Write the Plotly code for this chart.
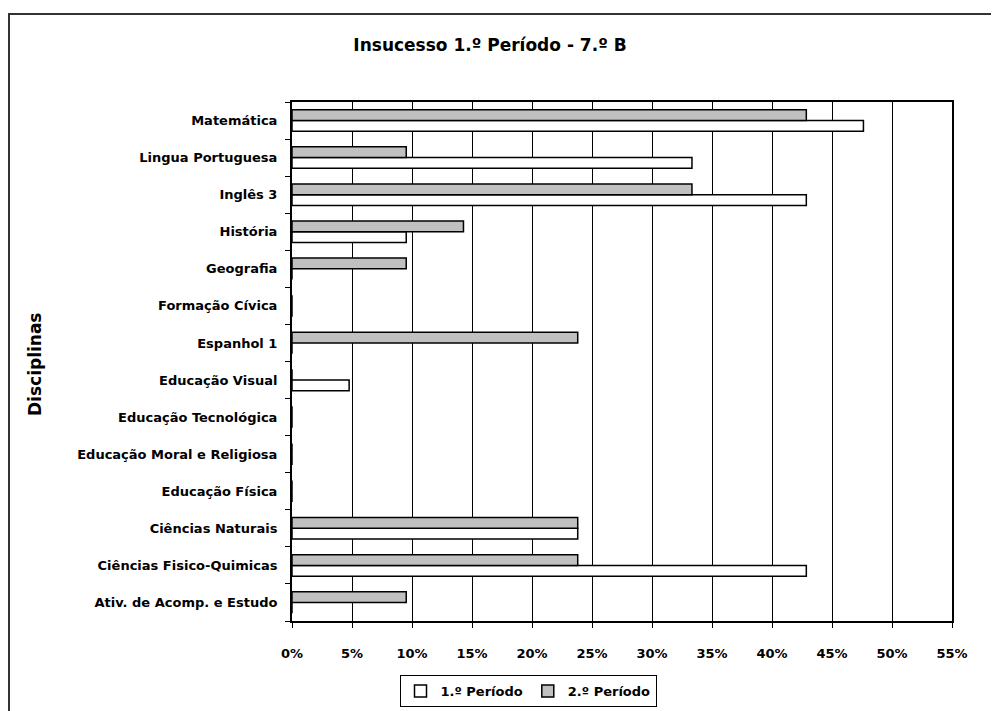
import plotly.graph_objects as go

# disciplinas (de baixo para cima, como no eixo)
disciplinas = [
    "Ativ. de Acomp. e Estudo",
    "Ciências Fisico-Quimicas",
    "Ciências Naturais",
    "Educação Física",
    "Educação Moral e Religiosa",
    "Educação Tecnológica",
    "Educação Visual",
    "Espanhol 1",
    "Formação Cívica",
    "Geografia",
    "História",
    "Inglês 3",
    "Lingua Portuguesa",
    "Matemática",
]
periodo_1 = [0, 0.4286, 0.2381, 0, 0, 0, 0.0476, 0, 0, 0, 0.0952, 0.4286, 0.3333, 0.4762]
periodo_2 = [0.0952, 0.2381, 0.2381, 0, 0, 0, 0, 0.2381, 0, 0.0952, 0.1429, 0.3333, 0.0952, 0.4286]

x_ticks = [i * 0.05 for i in range(12)]

fonte = "DejaVu Sans, Arial, sans-serif"

# a pagina tem margem de 8px, por isso tudo vai 8px para tras
OFF = 8
L, R, T, B = 292 - OFF, 952 - OFF, 102 - OFF, 621 - OFF
W, H = 999 - OFF, 711 - OFF


def px_x(x):
    return (x - OFF - L) / (R - L)


def px_y(y):
    return (B - (y - OFF)) / (B - T)


fig = go.Figure()
fig.add_trace(go.Bar(y=disciplinas, x=periodo_1, orientation="h", name="1.º Período",
                     marker=dict(color="white", line=dict(color="black", width=1.5))))
fig.add_trace(go.Bar(y=disciplinas, x=periodo_2, orientation="h", name="2.º Período",
                     marker=dict(color="#c0c0c0", line=dict(color="black", width=1.5))))

fig.update_layout(
    width=W, height=H,
    margin=dict(l=L, r=W - R, t=T, b=H - B, pad=0, autoexpand=False),
    plot_bgcolor="white", paper_bgcolor="white",
    barmode="group", bargap=0.42, bargroupgap=0,
    font=dict(family=fonte, size=13, color="black", weight="bold"),
    title=dict(text="Insucesso 1.º Período - 7.º B", x=(490 - OFF) / W, xref="container", xanchor="center",
               y=1 - (45 - OFF) / H, yref="container", yanchor="middle",
               font=dict(family=fonte, size=17, color="black", weight="bold")),
    legend=dict(orientation="h", x=px_x(528), xanchor="center", y=px_y(691), yanchor="middle",
                bordercolor="black", borderwidth=1, bgcolor="white",
                font=dict(family=fonte, size=13, color="black", weight="bold"),
                itemwidth=30, traceorder="normal"),
    showlegend=True,
)

fig.update_xaxes(range=[0, 0.55], tickvals=x_ticks, tickformat=".0%",
                 showgrid=True, gridcolor="black", gridwidth=1,
                 showline=True, linecolor="black", linewidth=2, mirror=True,
                 ticks="outside", ticklen=5, tickcolor="black", zeroline=False,
                 ticklabelstandoff=14,
                 tickfont=dict(family=fonte, size=13, color="black", weight="bold"))
fig.update_yaxes(showgrid=False, showline=True, linecolor="black", linewidth=2, mirror=True,
                 ticks="outside", ticklen=5, tickcolor="black", tickson="boundaries",
                 ticklabelstandoff=10,
                 tickfont=dict(family=fonte, size=13, color="black", weight="bold"))

# titulo do eixo y
fig.add_annotation(text="Disciplinas", x=px_x(35), y=px_y(365), xref="paper", yref="paper",
                   xanchor="center", yanchor="middle", textangle=-90, showarrow=False,
                   font=dict(family=fonte, size=17, color="black", weight="bold"))

# moldura exterior do grafico
borda = "#333333"
fig.add_shape(type="line", xref="paper", yref="paper", x0=px_x(9), x1=px_x(9),
              y0=px_y(14), y1=px_y(730), line=dict(color=borda, width=2))
fig.add_shape(type="line", xref="paper", yref="paper", x0=px_x(8), x1=px_x(1010),
              y0=px_y(14), y1=px_y(14), line=dict(color=borda, width=2))

fig.write_html("out.html")
